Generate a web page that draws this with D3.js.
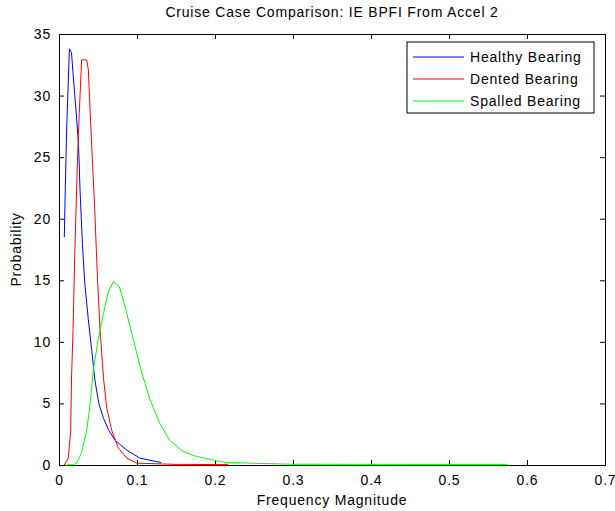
<!DOCTYPE html>
<html>
<head>
<meta charset="UTF-8">
<script src="https://d3js.org/d3.v7.min.js"></script>
<style>
    body { margin: 0; background: #fff; }
    text { font-family: "Liberation Sans", Arial, sans-serif; font-size: 14px; letter-spacing: 0.8px; fill: #000; }
</style>
</head>
<body>
<svg id="chart"></svg>
<script>
// series: [frequency magnitude, probability]
const healthy = [
    [0.0068, 18.5], [0.008, 22.3], [0.0098, 27.2], [0.0133, 33.8], [0.016, 33.5],
    [0.018, 31.8], [0.022, 28.6], [0.025, 26.1], [0.027, 22.3], [0.030, 18.0],
    [0.033, 14.8], [0.0376, 11.8], [0.042, 9.3], [0.046, 6.9], [0.051, 5.0],
    [0.057, 3.8], [0.064, 2.8], [0.072, 2.0], [0.087, 1.2], [0.104, 0.55], [0.131, 0.2]
];
const dented = [
    [0.0068, 0], [0.012, 0.6], [0.015, 2.8], [0.016, 6.9], [0.018, 11],
    [0.0205, 17.7], [0.0235, 24.5], [0.026, 28.6], [0.029, 32.9], [0.0355, 32.9],
    [0.0376, 32.1], [0.040, 28.6], [0.043, 24.5], [0.046, 20.5], [0.049, 15.6],
    [0.0526, 11], [0.057, 7.1], [0.061, 4.7], [0.0676, 2.8], [0.076, 1.4],
    [0.087, 0.55], [0.0996, 0.15], [0.15, 0.05], [0.217, 0.03]
];
const spalled = [
    [0.0077, 0], [0.018, 0.02], [0.0226, 0.15], [0.029, 1.0], [0.0355, 2.8],
    [0.040, 5.0], [0.044, 7.7], [0.050, 10.1], [0.057, 12.3], [0.063, 14.0],
    [0.0697, 14.9], [0.0773, 14.5], [0.0846, 12.9], [0.0953, 10.2], [0.106, 7.5],
    [0.1167, 5.3], [0.129, 3.4], [0.142, 2.0], [0.159, 1.1], [0.176, 0.7],
    [0.198, 0.4], [0.215, 0.2], [0.3, 0.06], [0.45, 0.05], [0.575, 0.05]
];
const seriesNames = ["Healthy Bearing", "Dented Bearing", "Spalled Bearing"];
const seriesColors = ["#0000ff", "#ff0000", "#00ff00"];
const xTicks = [0, 0.1, 0.2, 0.3, 0.4, 0.5, 0.6, 0.7];
const yTicks = [0, 5, 10, 15, 20, 25, 30, 35];

const width = 615, height = 511;
const margin = { top: 34, right: 10, bottom: 46, left: 59 };

const svg = d3.select("#chart")
    .attr("width", width)
    .attr("height", height);

const x = d3.scaleLinear().domain([0, 0.7]).range([margin.left, width - margin.right]);
const y = d3.scaleLinear().domain([0, 35]).range([height - margin.bottom, margin.top]);

const tick = 5;

// axes: labels outside, ticks inside
svg.append("g")
    .attr("transform", `translate(0,${y(0)})`)
    .call(d3.axisBottom(x).tickValues(xTicks).tickSize(-tick).tickPadding(10)
        .tickFormat(d => d === 0 ? "0" : d3.format(".1f")(d)));
svg.append("g")
    .attr("transform", `translate(0,${y(35)})`)
    .call(d3.axisTop(x).tickValues(xTicks).tickSize(-tick).tickFormat(""));
svg.append("g")
    .attr("transform", `translate(${x(0)},0)`)
    .call(d3.axisLeft(y).tickValues(yTicks).tickSize(-tick).tickPadding(8));
svg.append("g")
    .attr("transform", `translate(${x(0.7)},0)`)
    .call(d3.axisRight(y).tickValues(yTicks).tickSize(-tick).tickFormat(""));

svg.selectAll(".domain").attr("stroke", "#000");
svg.selectAll(".tick line").attr("stroke", "#000");
svg.selectAll(".tick text").style("font-size", "14px").attr("fill", "#000");

const line = d3.line().x(d => x(d[0])).y(d => y(d[1]));
[healthy, dented, spalled].forEach((s, i) => {
    svg.append("path")
        .datum(s)
        .attr("fill", "none")
        .attr("stroke", seriesColors[i])
        .attr("stroke-width", 1)
        .attr("d", line);
});

// title and axis labels
svg.append("text")
    .attr("x", (x(0) + x(0.7)) / 2).attr("y", 17)
    .attr("text-anchor", "middle")
    .text("Cruise Case Comparison: IE BPFI From Accel 2");
svg.append("text")
    .attr("x", (x(0) + x(0.7)) / 2).attr("y", 505)
    .attr("text-anchor", "middle")
    .text("Frequency Magnitude");
svg.append("text")
    .attr("transform", `translate(21,${(y(0) + y(35)) / 2}) rotate(-90)`)
    .attr("text-anchor", "middle")
    .text("Probability");

// legend
const lg = svg.append("g").attr("transform", "translate(407,42)");
lg.append("rect")
    .attr("width", 187).attr("height", 71)
    .attr("fill", "#fff").attr("stroke", "#000");
seriesNames.forEach((name, i) => {
    const yy = 15 + i * 22;
    lg.append("line")
        .attr("x1", 6).attr("x2", 57).attr("y1", yy).attr("y2", yy)
        .attr("stroke", seriesColors[i]);
    lg.append("text")
        .attr("x", 63).attr("y", yy).attr("dy", "0.35em")
        .text(name);
});
</script>
</body>
</html>
